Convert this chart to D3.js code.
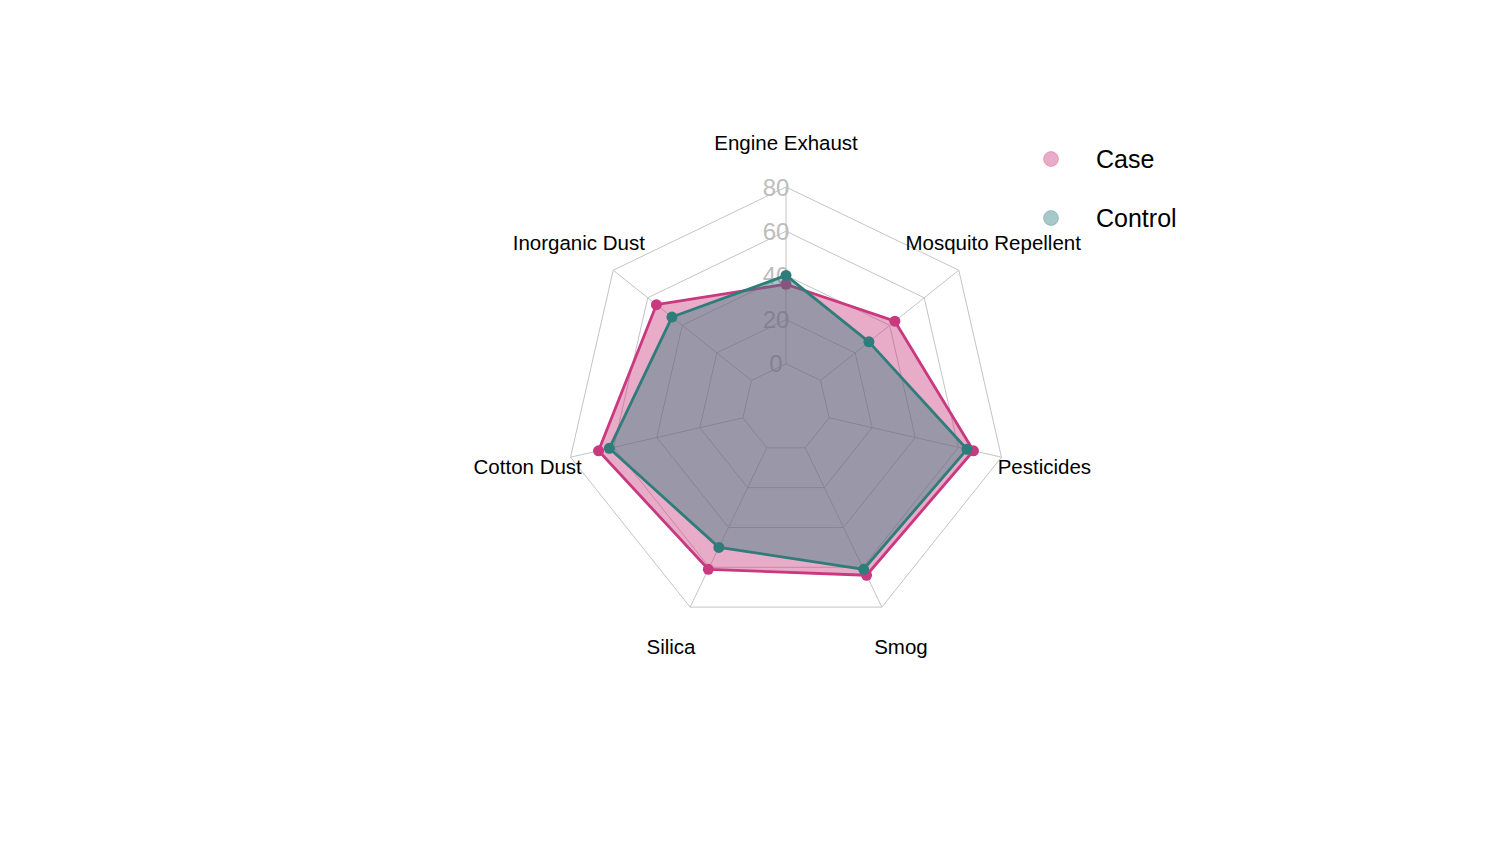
<!DOCTYPE html>
<html>
<head>
<meta charset="utf-8">
<script src="https://cdn.jsdelivr.net/npm/d3@7"></script>
<style>
  body { margin: 0; background: #fff; }
  text { font-family: Arial, "Liberation Sans", sans-serif; }
</style>
</head>
<body>
<script>
// categories, clockwise from the top
var categories = ["Engine Exhaust", "Mosquito Repellent", "Pesticides", "Smog", "Silica", "Cotton Dust", "Inorganic Dust"];
var caseValues = [36, 43, 67, 64, 61, 67, 55];
var controlValues = [40, 28, 64, 61, 50, 62, 46];
var radialTicks = [0, 20, 40, 60, 80];
var seriesNames = ["Case", "Control"];
var seriesColors = ["#c8397f", "#2e7d7b"];

var width = 1511, height = 848;
var cx = 786, cy = 408;

var svg = d3.select("body").append("svg")
  .attr("width", width)
  .attr("height", height);

var g = svg.append("g").attr("transform", "translate(" + cx + "," + cy + ")");

var r = d3.scaleLinear().domain([-20, 80]).range([0, 221]);
var angle = d3.scaleLinear().domain([0, categories.length]).range([0, 2 * Math.PI]);

function px(i, v) { return r(v) * Math.sin(angle(i)); }
function py(i, v) { return -r(v) * Math.cos(angle(i)); }

// grid rings
var ringLine = d3.lineRadial()
  .angle(function (d, i) { return angle(i); })
  .radius(function (d) { return r(d); })
  .curve(d3.curveLinearClosed);

radialTicks.forEach(function (t) {
  g.append("path")
    .attr("d", ringLine(categories.map(function () { return t; })))
    .attr("fill", "none")
    .attr("stroke", "#c4c4c4")
    .attr("stroke-width", 1);
});

// spokes from the 0 ring out to the outer ring
g.selectAll(".spoke")
  .data(categories)
  .enter().append("line")
  .attr("class", "spoke")
  .attr("x1", function (d, i) { return px(i, 0); })
  .attr("y1", function (d, i) { return py(i, 0); })
  .attr("x2", function (d, i) { return px(i, 80); })
  .attr("y2", function (d, i) { return py(i, 80); })
  .attr("stroke", "#c4c4c4")
  .attr("stroke-width", 1);

// radial tick labels
g.selectAll(".rtick")
  .data(radialTicks)
  .enter().append("text")
  .attr("class", "rtick")
  .attr("x", -10)
  .attr("y", function (d) { return -r(d); })
  .attr("dy", "0.36em")
  .attr("text-anchor", "middle")
  .attr("font-size", 24)
  .attr("fill", "#bdbdbd")
  .text(function (d) { return d; });

// category labels
g.selectAll(".alabel")
  .data(categories)
  .enter().append("text")
  .attr("class", "alabel")
  .attr("x", function (d, i) { return 265 * Math.sin(angle(i)); })
  .attr("y", function (d, i) { return -265 * Math.cos(angle(i)); })
  .attr("dy", "0.35em")
  .attr("text-anchor", "middle")
  .attr("font-size", 20.5)
  .attr("fill", "#000")
  .text(function (d) { return d; });

// series
var series = [caseValues, controlValues];
var area = d3.lineRadial()
  .angle(function (d, i) { return angle(i); })
  .radius(function (d) { return r(d); })
  .curve(d3.curveLinearClosed);

series.forEach(function (vals, s) {
  var col = seriesColors[s];
  g.append("path")
    .attr("d", area(vals))
    .attr("fill", col)
    .attr("fill-opacity", 0.42)
    .attr("stroke", col)
    .attr("stroke-width", 2.8)
    .attr("stroke-linejoin", "round");
  g.selectAll(".pt" + s)
    .data(vals)
    .enter().append("circle")
    .attr("class", "pt" + s)
    .attr("cx", function (d, i) { return px(i, d); })
    .attr("cy", function (d, i) { return py(i, d); })
    .attr("r", 5.5)
    .attr("fill", col);
});

// legend
var legend = svg.append("g").attr("transform", "translate(1051,159)");
seriesNames.forEach(function (name, s) {
  var row = legend.append("g").attr("transform", "translate(0," + (s * 59) + ")");
  row.append("circle")
    .attr("r", 7.5)
    .attr("fill", seriesColors[s])
    .attr("fill-opacity", 0.42)
    .attr("stroke", seriesColors[s])
    .attr("stroke-opacity", 0.3);
  row.append("text")
    .attr("x", 45)
    .attr("dy", "0.36em")
    .attr("font-size", 25)
    .attr("fill", "#000")
    .text(name);
});
</script>
</body>
</html>
